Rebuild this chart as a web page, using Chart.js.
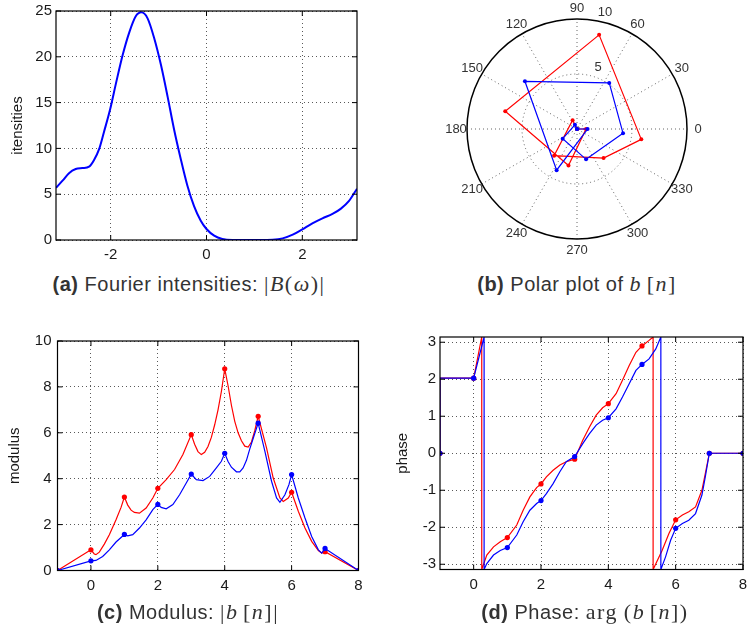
<!DOCTYPE html>
<html>
<head>
<meta charset="utf-8">
<script src="https://cdn.jsdelivr.net/npm/chart.js@4.4.1/dist/chart.umd.min.js"></script>
<style>
  body { margin: 0; background: #fff; width: 747px; height: 635px; position: relative; overflow: hidden;
         font-family: "Liberation Sans", Arial, sans-serif; }
  canvas { position: absolute; }
  .cap { position: absolute; font-size: 20px; letter-spacing: 0.5px; color: #333; white-space: nowrap; transform: translateX(-50%); }
  .cap i, .cap .m { font-family: "Liberation Serif", "Times New Roman", serif; font-size: 22px; letter-spacing: 1.5px; }
</style>
</head>
<body>
<canvas id="fourier" width="370" height="270" style="left:0;top:0"></canvas>
<canvas id="polar" width="377" height="262" style="left:370px;top:0"></canvas>
<canvas id="modulus" width="370" height="290" style="left:0;top:320px"></canvas>
<canvas id="phase" width="377" height="290" style="left:370px;top:320px"></canvas>

<div class="cap" style="left:189px;top:271px"><b>(a)</b> Fourier intensities: <span class="m">|</span><i>B</i><span class="m">(</span><i>ω</i><span class="m">)|</span></div>
<div class="cap" style="left:577px;top:271px"><b>(b)</b> Polar plot of <i>b</i>&thinsp;<span class="m">[</span><i>n</i><span class="m">]</span></div>
<div class="cap" style="left:188px;top:599px"><b>(c)</b> Modulus: <span class="m">|</span><i>b</i>&thinsp;<span class="m">[</span><i>n</i><span class="m">]|</span></div>
<div class="cap" style="left:585px;top:599px"><b>(d)</b> Phase: <span class="m">arg&thinsp;(</span><i>b</i>&thinsp;<span class="m">[</span><i>n</i><span class="m">])</span></div>

<script>
// (a) Fourier intensities
const omega = [-3.1416, -3.0, -2.87, -2.73, -2.59, -2.45, -2.35, -2.24, -2.14, -2.01, -1.89, -1.75, -1.61, -1.48,
  -1.36, -1.23, -1.09, -0.95, -0.81, -0.68, -0.54, -0.40, -0.26, -0.12, 0, 0.16, 0.33, 0.54, 0.8, 1.1, 1.38, 1.59,
  1.80, 1.99, 2.21, 2.42, 2.63, 2.80, 2.98, 3.1416];
const intensity = [5.7, 6.5, 7.3, 7.75, 7.85, 8.0, 8.7, 9.95, 11.8, 14.3, 17.1, 20.2, 22.7, 24.4,
  24.85, 24.2, 22.0, 19.1, 15.6, 12.15, 8.9, 5.95, 3.7, 2.1, 1.2, 0.47, 0.11, 0, 0, 0, 0.03, 0.18,
  0.58, 1.13, 1.82, 2.37, 2.85, 3.4, 4.3, 5.6];

// samples b[n]
const nIdx = [-1, 0, 1, 2, 3, 4, 5, 6, 7, 8];
const redMod = [0, 0.9, 3.2, 3.58, 5.92, 8.79, 6.72, 3.41, 0.82, 0];
const blueMod = [0, 0.42, 1.57, 2.88, 4.2, 5.11, 6.42, 4.18, 0.96, 0];
const redPhase = [0, 2.03, -2.28, -0.83, -0.16, 1.34, 2.9, -1.8, 0, 0];
const bluePhase = [0, 2.03, -2.55, -1.28, -0.09, 0.96, 2.4, -2.03, 0, 0];

// (c) interpolated modulus curves
const redModX = [-1, 0, 0.1, 0.15, 0.25, 0.4, 0.55, 0.75, 0.9, 1, 1.1, 1.2, 1.3, 1.45, 1.65, 1.85, 2, 2.25, 2.5, 2.75,
  3, 3.1, 3.2, 3.3, 3.4, 3.5, 3.6, 3.7, 3.8, 3.9, 4, 4.1, 4.2, 4.3, 4.4, 4.5, 4.6, 4.7, 4.8, 4.9,
  5, 5.25, 5.45, 5.65, 5.75, 5.9, 6, 6.2, 6.4, 6.6, 6.8, 6.9, 7, 8];
const redModY = [0, 0.9, 0.72, 0.69, 0.8, 1.15, 1.56, 2.21, 2.75, 3.2, 2.85, 2.63, 2.53, 2.5, 2.72, 3.16, 3.58, 3.96, 4.4, 5.05,
  5.92, 5.5, 5.18, 5.05, 5.15, 5.4, 5.8, 6.35, 7.0, 7.8, 8.79, 8.05, 7.2, 6.5, 6.0, 5.65, 5.42, 5.38, 5.6, 6.1,
  6.72, 5.34, 4.03, 3.16, 3.01, 3.16, 3.41, 2.58, 1.85, 1.27, 0.87, 0.76, 0.82, 0];
const blueModX = [-1, 0, 0.15, 0.35, 0.55, 0.75, 1, 1.1, 1.25, 1.45, 1.65, 1.85, 2, 2.1, 2.25, 2.45, 2.65, 2.85,
  3, 3.15, 3.35, 3.55, 3.75, 3.9, 4, 4.1, 4.2, 4.35, 4.45, 4.55, 4.65, 4.75, 4.85, 5, 5.2, 5.4, 5.55, 5.65, 5.8, 5.92,
  6, 6.2, 6.4, 6.6, 6.8, 6.9, 7, 8];
const blueModY = [0, 0.42, 0.44, 0.61, 0.9, 1.24, 1.57, 1.51, 1.56, 1.85, 2.21, 2.65, 2.88, 2.75, 2.69, 2.87, 3.3, 3.81,
  4.2, 3.96, 3.92, 4.1, 4.47, 4.76, 5.11, 4.75, 4.5, 4.3, 4.3, 4.47, 4.8, 5.3, 5.75, 6.42, 5.2, 3.89, 3.16, 2.97, 3.3, 3.74,
  4.18, 3.16, 2.29, 1.48, 0.9, 0.76, 0.96, 0];

// (d) interpolated phase curves (wraps at +-pi)
const redPhaseX = [-1, -1, 0, 0.24, 0.24, 0.39, 0.59, 0.79, 1, 1.28, 1.47, 1.67, 1.87, 2, 2.16, 2.36, 2.56, 2.75,
  3, 3.24, 3.44, 3.64, 3.83, 4, 4.23, 4.42, 4.62, 4.82, 5, 5.21, 5.33, 5.33, 5.6, 5.8, 6, 6.2, 6.39, 6.59, 6.78, 6.88, 7, 8];
const redPhaseY = [0, 2.03, 2.03, Math.PI, -Math.PI, -2.75, -2.53, -2.39, -2.28, -1.94, -1.54, -1.18, -0.93, -0.83, -0.64, -0.46, -0.32, -0.23,
  -0.16, 0.35, 0.71, 1.03, 1.23, 1.34, 1.61, 1.97, 2.37, 2.73, 2.9, 3.05, Math.PI, -Math.PI, -2.62, -2.17, -1.8, -1.67, -1.58, -1.45, -1.0, -0.55, 0, 0];
const bluePhaseX = [-1, -1, 0, 0.31, 0.31, 0.39, 0.59, 0.79, 1, 1.28, 1.47, 1.67, 1.87, 2, 2.16, 2.36, 2.56, 2.75,
  3, 3.24, 3.44, 3.64, 3.83, 4, 4.23, 4.42, 4.62, 4.82, 5, 5.21, 5.41, 5.56, 5.56, 5.7, 5.85, 6, 6.2, 6.39, 6.59, 6.78, 6.88, 7, 8];
const bluePhaseY = [0, 2.03, 2.03, Math.PI, -Math.PI, -2.98, -2.75, -2.63, -2.55, -2.21, -1.85, -1.54, -1.36, -1.28, -1.09, -0.82, -0.5, -0.23,
  -0.09, 0.26, 0.53, 0.76, 0.89, 0.96, 1.2, 1.52, 1.88, 2.24, 2.4, 2.55, 2.82, Math.PI, -Math.PI, -2.8, -2.35, -2.03, -1.9, -1.81, -1.63, -1.13, -0.64, 0, 0];

// tick labels
const fourierXTicks = [-2, 0, 2];
const fourierYTicks = [0, 5, 10, 15, 20, 25];
const nTicks = [0, 2, 4, 6, 8];
const modTicks = [0, 2, 4, 6, 8, 10];
const phaseTicks = [-3, -2, -1, 0, 1, 2, 3];
const angleTicks = [0, 30, 60, 90, 120, 150, 180, 210, 240, 270, 300, 330];
const ringTicks = [5, 10];

const RED = '#ff0000';
const BLUE = '#0000ff';
const tickFont = { family: '"Liberation Sans", Arial, sans-serif', size: 15 };

const pairs = (xs, ys) => xs.map((x, i) => ({ x: x, y: ys[i] }));

// matlab style box with inward tick marks
const framePlugin = {
  id: 'frame',
  afterDatasetsDraw(chart) {
    const { ctx, chartArea: a, scales: { x, y } } = chart;
    ctx.save();
    ctx.strokeStyle = '#000';
    ctx.lineWidth = 1.2;
    ctx.strokeRect(a.left, a.top, a.right - a.left, a.bottom - a.top);
    ctx.lineWidth = 1;
    ctx.beginPath();
    x.ticks.forEach(t => {
      const px = x.getPixelForValue(t.value);
      ctx.moveTo(px, a.bottom); ctx.lineTo(px, a.bottom - 5);
      ctx.moveTo(px, a.top); ctx.lineTo(px, a.top + 5);
    });
    y.ticks.forEach(t => {
      const py = y.getPixelForValue(t.value);
      ctx.moveTo(a.left, py); ctx.lineTo(a.left + 5, py);
      ctx.moveTo(a.right, py); ctx.lineTo(a.right - 5, py);
    });
    ctx.stroke();
    ctx.restore();
  }
};

function cartesian(id, c) {
  const grid = { color: 'rgba(0,0,0,0.65)', lineWidth: 1, drawTicks: false };
  const border = { display: false, dash: [1, 3] };
  return new Chart(document.getElementById(id), {
    type: 'scatter',
    data: { datasets: c.datasets },
    options: {
      animation: false,
      responsive: false,
      events: [],
      layout: { padding: c.padding },
      plugins: { legend: { display: false }, tooltip: { enabled: false } },
      scales: {
        x: {
          type: 'linear', min: c.xMin, max: c.xMax,
          grid: grid, border: border,
          ticks: { font: tickFont, color: '#1a1a1a', padding: 6, maxRotation: 0, autoSkip: false },
          afterBuildTicks: s => { s.ticks = c.xTicks.map(v => ({ value: v })); },
          afterFit: s => { s.height = c.xH; s.paddingLeft = 0; s.paddingRight = 0; }
        },
        y: {
          type: 'linear', min: c.yMin, max: c.yMax,
          grid: grid, border: border,
          title: { display: true, text: c.yTitle, font: tickFont, color: '#1a1a1a', padding: { top: c.titlePad, bottom: 0 } },
          ticks: { font: tickFont, color: '#1a1a1a', padding: c.yPad, autoSkip: false },
          afterBuildTicks: s => { s.ticks = c.yTicks.map(v => ({ value: v })); },
          afterFit: s => { s.width = c.yW; s.paddingTop = 0; s.paddingBottom = 0; }
        }
      }
    },
    plugins: [framePlugin]
  });
}

const lineSet = (data, color, w) => ({ data: data, showLine: true, borderColor: color, borderWidth: w, pointRadius: 0, fill: false });
const dotSet = (data, color) => ({ data: data, showLine: false, pointRadius: 2.6, pointBackgroundColor: color, pointBorderWidth: 0 });

// (a)
cartesian('fourier', {
  padding: { left: 0, top: 11, right: 13, bottom: 0 },
  xMin: -Math.PI, xMax: Math.PI, xTicks: fourierXTicks, xH: 30,
  yMin: 0, yMax: 25, yTicks: fourierYTicks, yW: 56, yPad: 4, yTitle: 'itensities', titlePad: 9,
  datasets: [Object.assign(lineSet(pairs(omega, intensity), BLUE, 2), { cubicInterpolationMode: 'monotone' })]
});

// (c)
cartesian('modulus', {
  padding: { left: 0, top: 21, right: 11.5, bottom: 0 },
  xMin: -1, xMax: 8, xTicks: nTicks, xH: 39.5,
  yMin: 0, yMax: 10, yTicks: modTicks, yW: 57.5, yPad: 6, yTitle: 'modulus', titlePad: 6,
  datasets: [
    dotSet(pairs(nIdx, blueMod), BLUE),
    lineSet(pairs(blueModX, blueModY), BLUE, 1.2),
    dotSet(pairs(nIdx, redMod), RED),
    lineSet(pairs(redModX, redModY), RED, 1.2)
  ]
});

// (d)
cartesian('phase', {
  padding: { left: 0, top: 17, right: 1, bottom: 0 },
  xMin: -1, xMax: 8, xTicks: nTicks, xH: 40.5,
  yMin: -Math.PI, yMax: Math.PI, yTicks: phaseTicks, yW: 70, yPad: 4, yTitle: 'phase', titlePad: 24,
  datasets: [
    dotSet(pairs(nIdx, bluePhase), BLUE),
    lineSet(pairs(bluePhaseX, bluePhaseY), BLUE, 1.2),
    dotSet(pairs(nIdx, redPhase), RED),
    lineSet(pairs(redPhaseX, redPhaseY), RED, 1.2)
  ]
});

// (b) polar grid drawn on a square scatter area
const polarGrid = {
  id: 'polarGrid',
  beforeDatasetsDraw(chart) {
    const { ctx, scales: { x, y } } = chart;
    const rMax = ringTicks[ringTicks.length - 1];
    const cx = x.getPixelForValue(0), cy = y.getPixelForValue(0);
    const k = x.getPixelForValue(1) - cx;
    const R = rMax * k;
    ctx.save();
    ctx.strokeStyle = 'rgba(0,0,0,0.6)';
    ctx.lineWidth = 1;
    ctx.setLineDash([1, 3]);
    ctx.beginPath();
    angleTicks.filter(a => a < 180).forEach(a => {
      const t = a * Math.PI / 180;
      ctx.moveTo(cx - R * Math.cos(t), cy + R * Math.sin(t));
      ctx.lineTo(cx + R * Math.cos(t), cy - R * Math.sin(t));
    });
    ctx.stroke();
    ringTicks.slice(0, -1).forEach(r => {
      ctx.beginPath();
      ctx.arc(cx, cy, r * k, 0, 2 * Math.PI);
      ctx.stroke();
    });
    ctx.setLineDash([]);
    ctx.strokeStyle = '#000';
    ctx.lineWidth = 1.5;
    ctx.beginPath();
    ctx.arc(cx, cy, R, 0, 2 * Math.PI);
    ctx.stroke();

    ctx.fillStyle = '#333';
    ctx.font = '13px "Liberation Sans", Arial, sans-serif';
    ctx.textAlign = 'center';
    ctx.textBaseline = 'middle';
    angleTicks.forEach(a => {
      const t = a * Math.PI / 180;
      ctx.fillText(String(a), cx + (R + 11) * Math.cos(t), cy - (R + 11) * Math.sin(t));
    });
    const ringAngles = [71, 76.5];
    ringTicks.forEach((r, i) => {
      const t = ringAngles[i] * Math.PI / 180;
      const d = (r + 0.9) * k;
      ctx.fillText(String(r), cx + d * Math.cos(t), cy - d * Math.sin(t));
    });
    ctx.restore();
  }
};

const toXY = (mods, phases) => mods.map((r, i) => ({ x: r * Math.cos(phases[i]), y: r * Math.sin(phases[i]) }));

new Chart(document.getElementById('polar'), {
  type: 'scatter',
  data: {
    datasets: [
      { data: toXY(blueMod, bluePhase), showLine: true, borderColor: BLUE, borderWidth: 1.2,
        pointRadius: 2, pointBackgroundColor: BLUE, pointBorderWidth: 0 },
      { data: toXY(redMod, redPhase), showLine: true, borderColor: RED, borderWidth: 1.2,
        pointRadius: 2, pointBackgroundColor: RED, pointBorderWidth: 0 }
    ]
  },
  options: {
    animation: false,
    responsive: false,
    events: [],
    layout: { padding: { left: 97, right: 60, top: 19, bottom: 23 } },
    plugins: { legend: { display: false }, tooltip: { enabled: false } },
    scales: {
      x: { type: 'linear', min: -10, max: 10, display: false },
      y: { type: 'linear', min: -10, max: 10, display: false }
    }
  },
  plugins: [polarGrid]
});
</script>
</body>
</html>
